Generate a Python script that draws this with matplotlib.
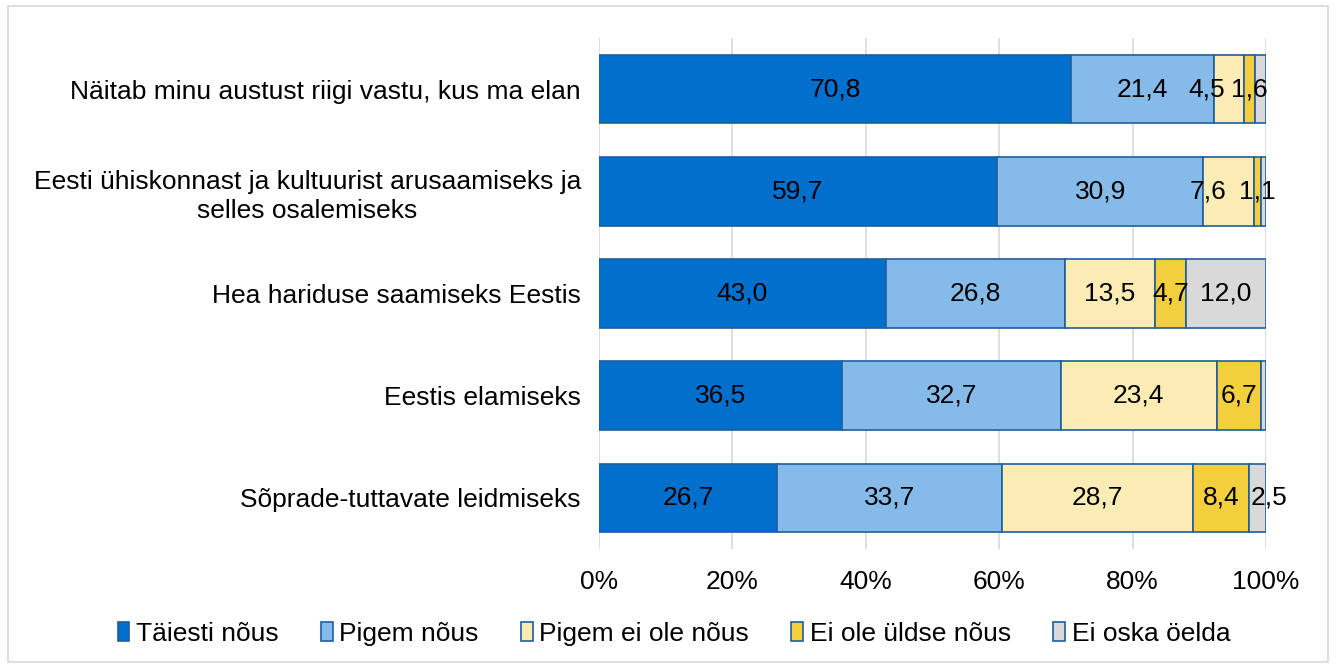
import matplotlib
matplotlib.use("Agg")
import matplotlib.pyplot as plt
from matplotlib.patches import Rectangle

plt.rcParams['font.family'] = ['Liberation Sans', 'DejaVu Sans']

categories = [
    "Näitab minu austust riigi vastu, kus ma elan",
    "Eesti ühiskonnast ja kultuurist arusaamiseks ja\nselles osalemiseks",
    "Hea hariduse saamiseks Eestis",
    "Eestis elamiseks",
    "Sõprade-tuttavate leidmiseks",
]
series_names = ["Täiesti nõus", "Pigem nõus", "Pigem ei ole nõus", "Ei ole üldse nõus", "Ei oska öelda"]
taiesti = [70.8, 59.7, 43.0, 36.5, 26.7]
pigem = [21.4, 30.9, 26.8, 32.7, 33.7]
pigem_ei = [4.5, 7.6, 13.5, 23.4, 28.7]
ei_ole = [1.6, 1.1, 4.7, 6.7, 8.4]
ei_oska = [1.7, 0.7, 12.0, 0.7, 2.5]
hidden_labels = {(0, 4), (1, 4), (3, 4)}  # (row, series) without a data label
xticks = [0, 20, 40, 60, 80, 100]

# label nudges (points) as in the reference, keyed by (row, series)
label_nudge = {(0, 2): -16, (1, 2): -15, (4, 4): 8}

colors = ["#0070CC", "#86BAE8", "#FBEBB5", "#F3CE3D", "#D9D9D9"]
edge = "#1F5E9E"
FS = 19

fig = plt.figure(figsize=(13.36, 6.68), dpi=100)
ax = fig.add_axes([599/1336, 1-549/668, (1266-599)/1336, (549-38)/668])

series = [taiesti, pigem, pigem_ei, ei_ole, ei_oska]
n = len(categories)
ypos = list(range(n))
left = [0.0]*n
for si, (vals, c, name) in enumerate(zip(series, colors, series_names)):
    bars = ax.barh(ypos, vals, left=left, height=0.67, color=c, edgecolor=edge,
                   linewidth=1.2, label=name, zorder=3)
    for ri, (b, v) in enumerate(zip(bars, vals)):
        if (ri, si) in hidden_labels:
            continue
        ax.annotate(f"{v:.1f}".replace(".", ","), (left[ri] + v/2, ri),
                    xytext=(label_nudge.get((ri, si), 0), 0), textcoords="offset points",
                    ha="center", va="center", fontsize=FS, color="black", zorder=4)
    left = [l + v for l, v in zip(left, vals)]

ax.set_ylim(n - 0.5, -0.5)
ax.set_xlim(0, 100)
ax.set_yticks(ypos)
ax.set_yticklabels(categories, fontsize=FS, linespacing=1.3, multialignment="center")
ax.set_xticks(xticks)
ax.set_xticklabels([f"{t}%" for t in xticks], fontsize=FS)
ax.tick_params(axis="y", length=0, pad=13)
ax.tick_params(axis="x", length=0, pad=15)
ax.grid(axis="x", color="#D9D9D9", linewidth=1.2, zorder=0)
for s in ax.spines.values():
    s.set_visible(False)

fig.legend(loc="center", bbox_to_anchor=(0.5 + 6/1336, 1-634/668), ncol=5, frameon=False,
           fontsize=FS, handlelength=0.45, handleheight=0.75, handletextpad=0.25,
           columnspacing=1.6)

fig.patches.append(Rectangle((8/1336, 6/668), 1320/1336, 656/668, transform=fig.transFigure,
                             fill=False, edgecolor="#D9D9D9", linewidth=1.2))

fig.savefig("out.png", dpi=100, facecolor="white")
